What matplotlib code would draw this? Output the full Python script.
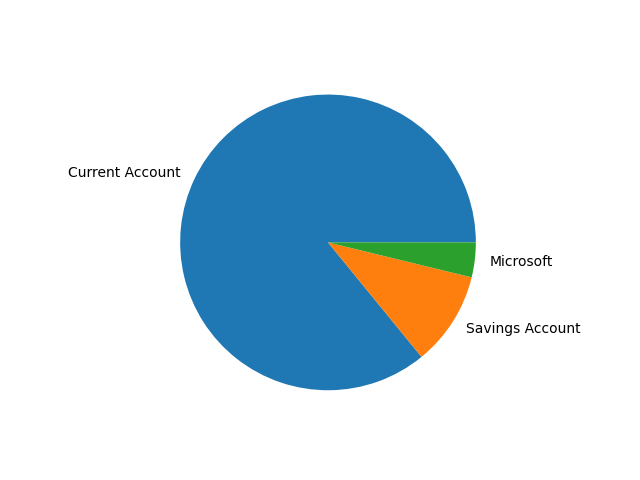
import matplotlib
matplotlib.use("Agg")
import matplotlib.pyplot as plt

# account balances
labels = ['Current Account', 'Savings Account', 'Microsoft']
balances = [85.9, 10.3, 3.8]

fig, ax = plt.subplots(figsize=(6.4, 4.8), dpi=100)
ax.pie(balances, labels=labels)

fig.savefig('out.png')
